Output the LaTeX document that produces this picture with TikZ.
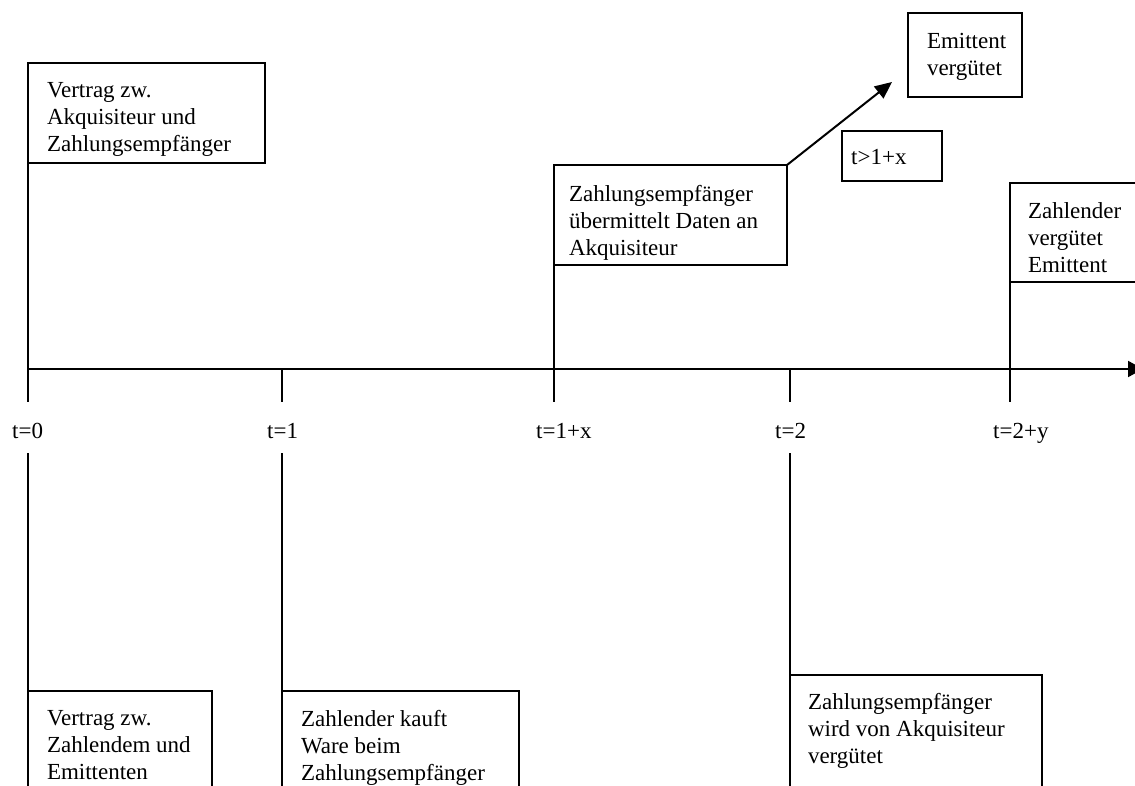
\documentclass[tikz,border=0pt]{standalone}
\usepackage{fontspec}
\setmainfont{Liberation Serif}
\usetikzlibrary{arrows.meta,calc}
\begin{document}
\begin{tikzpicture}[x=1pt,y=-1pt,
  ln/.style={line width=2pt},
  box/.style={draw, line width=2pt, inner sep=0pt, outer sep=0pt, anchor=north west},
  txt/.style={inner sep=0pt, outer sep=0pt, anchor=north west, align=left, font=\fontsize{23}{27}\selectfont},
  lbl/.style={inner sep=0pt, anchor=base west, font=\fontsize{23}{27}\selectfont},
  head/.style={-{Triangle[length=17pt,width=15pt]}}]
\useasboundingbox (0,0) rectangle (1135,786);
\clip (0,0) rectangle (1135,786);
% boxes above the axis
\node[box, minimum width=237pt, minimum height=100pt] (b1) at (28,63) {};
\node[txt] (t1) at (47,82) {Vertrag zw.\\Akquisiteur und\\Zahlungsempfänger};
\node[box, minimum width=233pt, minimum height=100pt] (b2) at (554,165) {};
\node[txt] (t2) at (569,185) {Zahlungsempfänger\\übermittelt Daten an\\Akquisiteur};
\node[box, minimum width=114pt, minimum height=84pt] (b3) at (908,13) {};
\node[txt] (t3) at (927,33) {Emittent\\vergütet};
\node[box, minimum width=100pt, minimum height=50pt] (b4) at (842,131) {};
\node[lbl] (t4) at (851,165) {t>1+x};
\node[box, minimum width=140pt, minimum height=99pt] (b5) at (1010,183) {};
\node[txt] (t5) at (1028,203) {Zahlender\\vergütet\\Emittent};
% boxes below the axis
\node[box, minimum width=184pt, minimum height=130pt] (c1) at (28,691) {};
\node[txt] (s1) at (47,710) {Vertrag zw.\\Zahlendem und\\Emittenten};
\node[box, minimum width=237pt, minimum height=130pt] (c2) at (282,691) {};
\node[txt] (s2) at (301,710) {Zahlender kauft\\Ware beim\\Zahlungsempfänger};
\node[box, minimum width=252pt, minimum height=140pt] (c3) at (790,675) {};
\node[txt] (s3) at (808,693) {Zahlungsempfänger\\wird von Akquisiteur\\vergütet};
% axis
\coordinate (ax0) at (28,369);
\coordinate (axend) at (1143,369);
\coordinate (ax1) at (282,369);
\coordinate (ax3) at (790,369);
\coordinate (tk0) at (28,402);
\coordinate (tk1) at (282,402);
\coordinate (tk2) at (554,402);
\coordinate (tk3) at (790,402);
\coordinate (tk4) at (1010,402);
\coordinate (lo0) at (28,453);
\coordinate (lo1) at (282,453);
\coordinate (lo3) at (790,453);
\coordinate (tip) at (892,82);
\draw[ln, -{Triangle[length=15pt,width=16pt]}] (ax0) -- (axend);
\draw[ln] (b1.south west) -- (tk0);
\draw[ln] (ax1) -- (tk1);
\draw[ln] (b2.south west) -- (tk2);
\draw[ln] (ax3) -- (tk3);
\draw[ln] (b5.south west) -- (tk4);
\draw[ln] (lo0) -- (c1.north west);
\draw[ln] (lo1) -- (c2.north west);
\draw[ln] (lo3) -- (c3.north west);
\draw[ln, head] (b2.north east) -- (tip);
% labels
\node[lbl] (l0) at (12,438) {t=0};
\node[lbl] (l1) at (267,438) {t=1};
\node[lbl] (l2) at (536,438) {t=1+x};
\node[lbl] (l3) at (775,438) {t=2};
\node[lbl] (l4) at (993,438) {t=2+y};
\end{tikzpicture}
\end{document}
